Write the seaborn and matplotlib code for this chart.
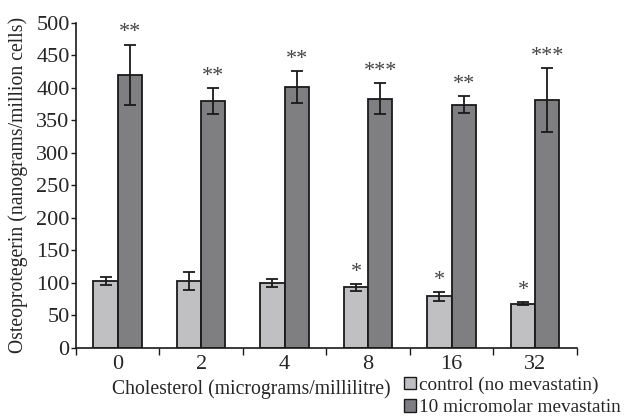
import numpy as np
import pandas as pd
import matplotlib.pyplot as plt
import seaborn as sns
from matplotlib.patches import Patch

# data
concentrations = ["0", "2", "4", "8", "16", "32"]
control_mean = [103, 103, 100, 93, 79, 68]
control_err = [6.5, 13.5, 6.5, 5, 7, 2.5]
mev_mean = [420, 379, 401, 383, 374, 381]
mev_err = [46, 20, 24, 23.5, 13, 48.5]
control_stars = ["", "", "", "*", "*", "*"]
mev_stars = ["**", "**", "**", "***", "**", "***"]

groups = ["control (no mevastatin)", "10 micromolar mevastatin"]

df = pd.DataFrame({
    "conc": concentrations * 2,
    "group": [groups[0]] * 6 + [groups[1]] * 6,
    "value": control_mean + mev_mean,
})

sns.set_style("ticks")
plt.rcParams["font.family"] = ["Liberation Serif", "DejaVu Serif"]

fig = plt.figure(figsize=(6.27, 4.18), dpi=100)
ax = fig.add_axes([0.121, 0.168, 0.799, 0.778])

colors = ["#bfbfc3", "#7f7e83"]
sns.barplot(data=df, x="conc", y="value", hue="group", palette=colors,
            width=0.58, errorbar=None, edgecolor="#1a1a1a", linewidth=1.3,
            ax=ax, legend=False)

errs = [control_err, mev_err]
means = [control_mean, mev_mean]
stars = [control_stars, mev_stars]
bar_containers = list(ax.containers)
for k, cont in enumerate(bar_containers):
    xs = [p.get_x() + p.get_width() / 2 for p in cont.patches]
    ax.errorbar(xs, means[k], yerr=errs[k], fmt="none", ecolor="#1a1a1a",
                elinewidth=1.3, capsize=4, capthick=1.3)
    for x, m, e, s in zip(xs, means[k], errs[k], stars[k]):
        if s:
            ax.text(x, m + e + 18, s, ha="center", va="center",
                    fontsize=16, color="#444444")

ax.set_ylim(0, 500)
ax.set_xlim(-0.5, 5.5)
ax.set_yticks(np.arange(0, 501, 50))
ax.tick_params(axis="y", labelsize=16, length=3.5, width=1, color="#1a1a1a", pad=1)
ax.tick_params(axis="x", which="major", length=0, labelsize=16, pad=5)
ax.set_xticks(np.arange(-0.5, 6, 1), minor=True)
ax.tick_params(axis="x", which="minor", length=5, width=1, color="#1a1a1a")
for side in ["top", "right"]:
    ax.spines[side].set_visible(False)
for side in ["left", "bottom"]:
    ax.spines[side].set_color("#1a1a1a")
    ax.spines[side].set_linewidth(1.2)

ax.set_ylabel("Osteoprotegerin (nanograms/million cells)", fontsize=14.2, labelpad=6)
ax.set_xlabel("Cholesterol (micrograms/millilitre)", fontsize=14.2)
ax.xaxis.set_label_coords(0.351, -0.097)

handles = [Patch(facecolor=c, edgecolor="#1a1a1a", linewidth=1) for c in colors]
fig.legend(handles, groups, loc="center left", bbox_to_anchor=(0.645, 0.052),
           frameon=False, fontsize=13.9, handlelength=0.6, handleheight=0.6,
           handletextpad=0.15, labelspacing=0.3, borderpad=0, borderaxespad=0)

fig.savefig("out.png", dpi=100)
